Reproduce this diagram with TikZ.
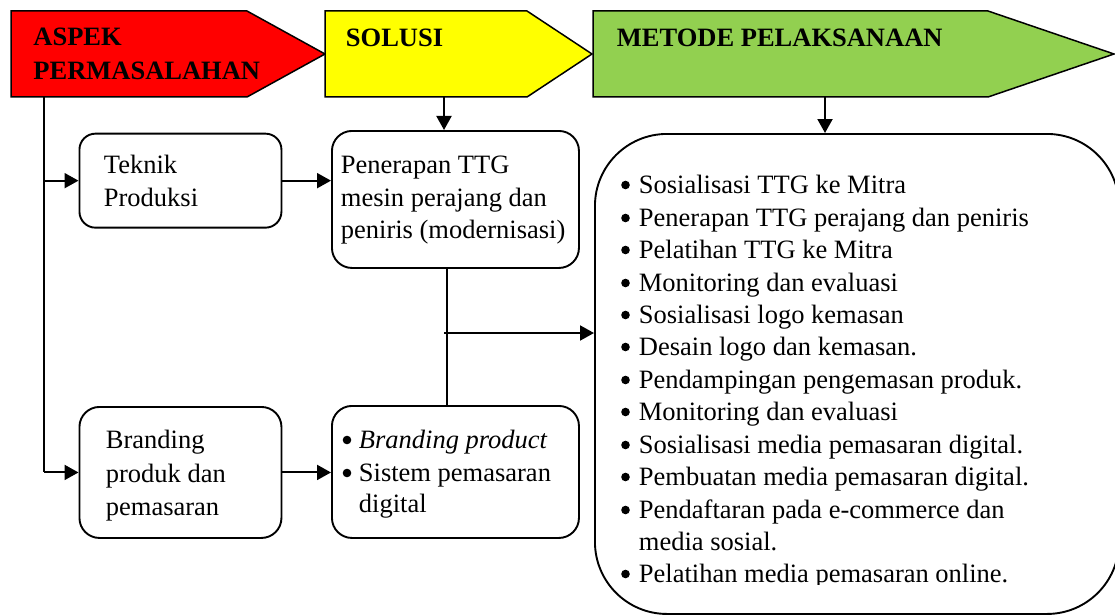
\documentclass[tikz,border=0pt]{standalone}
\usepackage{fontspec}
\setmainfont{Liberation Serif}
\usetikzlibrary{arrows.meta}
\definecolor{hdrred}{RGB}{255,0,0}
\definecolor{hdryellow}{RGB}{255,255,0}
\definecolor{hdrgreen}{RGB}{146,208,80}
\begin{document}
\begin{tikzpicture}[x=1pt,y=-1pt,
  line width=1.8pt,
  txt/.style={anchor=base west, inner sep=0pt, font=\fontsize{26.5}{32.5}\selectfont},
  hdr/.style={anchor=base west, inner sep=0pt, font=\fontsize{26.5}{32.5}\selectfont\bfseries},
  bul/.style={circle, fill=black, inner sep=0pt, minimum size=8.6pt},
  rbox/.style={draw, anchor=north west, rounded corners=18pt, inner sep=0pt, line width=1.9pt},
  bigbox/.style={draw, anchor=north west, rounded corners=72pt, inner sep=0pt, line width=1.9pt},
  hdrshape/.style={draw, line width=1.5pt, line join=miter},
  arr/.style={-{Triangle[length=14pt,width=15pt]}, line width=2pt},
  ln/.style={line width=2pt}
]
\useasboundingbox (0,0) rectangle (1115,615);
\clip (0,0) rectangle (1115,615);

% header arrows
\path[hdrshape, fill=hdrred] (11,11) -- (247,11) -- (325,54) -- (247,97) -- (11,97) -- cycle;
\path[hdrshape, fill=hdryellow] (325,11) -- (527,11) -- (592,54) -- (527,97) -- (325,97) -- cycle;
\path[hdrshape, fill=hdrgreen] (593,11) -- (988,11) -- (1114,54) -- (988,97) -- (593,97) -- cycle;
\node[hdr] (hA) at (32.5,46) {ASPEK};
\node[hdr] (hB) at (32.5,80) {PERMASALAHAN};
\node[hdr] (hS) at (345,47) {SOLUSI};
\node[hdr] (hM) at (616,47) {METODE PELAKSANAAN};
\coordinate (redB) at (44,97);
\coordinate (solB) at (444,97);
\coordinate (greB) at (825,97);
\coordinate (vx) at (446.5,0);

% boxes
\node[rbox, minimum width=202pt, minimum height=94pt, rounded corners=16pt] (tek) at (78.5,132.7) {};
\node[rbox, minimum width=247pt, minimum height=137pt, rounded corners=20pt] (pen) at (331,130) {};
\node[rbox, minimum width=202pt, minimum height=131pt, rounded corners=20pt] (bra) at (78.5,406) {};
\node[rbox, minimum width=247pt, minimum height=132pt, rounded corners=20pt] (sis) at (331,405) {};
\node[bigbox, minimum width=524pt, minimum height=480pt] (big) at (594,133) {};

% box texts
\node[txt] (t1) at (103,173) {Teknik};
\node[txt] (t2) at (103,206) {Produksi};
\node[txt] (p1) at (340,173) {Penerapan TTG};
\node[txt] (p2) at (340,206) {mesin perajang dan};
\node[txt] (p3) at (340,238) {peniris (modernisasi)};
\node[txt] (b1) at (105,448) {Branding};
\node[txt] (b2) at (105,482) {produk dan};
\node[txt] (b3) at (105,515) {pemasaran};
\node[bul] (sb1) at (347,440) {};
\node[txt] (s1) at (358,448) {\itshape Branding product};
\node[bul] (sb2) at (347,473) {};
\node[txt] (s2) at (358,481) {Sistem pemasaran};
\node[txt] (s3) at (358,512) {digital};

% list
\begin{scope}
\clip (594,133) rectangle (1115,584);
\foreach \yy/\tt [count=\i] in {
  193/{Sosialisasi TTG ke Mitra},
  226/{Penerapan TTG perajang dan peniris},
  258/{Pelatihan TTG ke Mitra},
  291/{Monitoring dan evaluasi},
  323/{Sosialisasi logo kemasan},
  355/{Desain logo dan kemasan.},
  388/{Pendampingan pengemasan produk.},
  420/{Monitoring dan evaluasi},
  453/{Sosialisasi media pemasaran digital.},
  485/{Pembuatan media pemasaran digital.},
  518/{Pendaftaran pada e-commerce dan},
  582/{Pelatihan media pemasaran online.}}{
  \node[bul] (lb\i) at (625.5,\yy-8) {};
  \node[txt] (li\i) at (638,\yy) {\tt};
}
\node[txt] (li13) at (638,550) {media sosial.};
\end{scope}

% connectors
\draw[ln] (redB) -- (redB |- bra.west);
\draw[arr] (redB |- tek.west) -- (tek.west);
\draw[arr] (redB |- bra.west) -- (bra.west);
\draw[arr] (tek.east) -- (pen.west |- tek.east);
\draw[arr] (bra.east) -- (sis.west |- bra.east);
\draw[arr] (solB) -- (solB |- pen.north);
\draw[arr] (greB) -- (greB |- big.north);
\draw[ln] (pen.south -| vx) -- (sis.north -| vx);
\coordinate (junc) at (444,333);
\draw[arr] (junc) -- (junc -| big.west);
\end{tikzpicture}
\end{document}
